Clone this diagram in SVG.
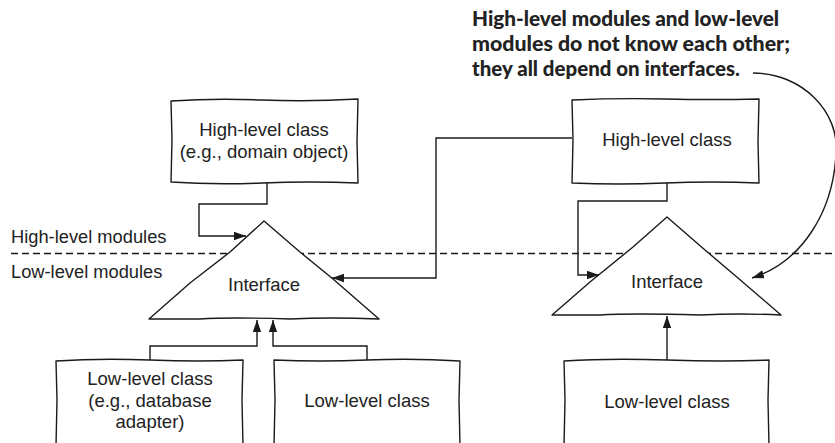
<svg xmlns="http://www.w3.org/2000/svg" width="835" height="443" viewBox="0 0 835 443">
<defs>
<marker id="ah" markerUnits="userSpaceOnUse" markerWidth="12" markerHeight="10" viewBox="0 0 12 10" refX="12" refY="5" orient="auto">
<path d="M0,0.8 L12,5 L0,9.2 Z" fill="#1a1a1a"/>
</marker>
<style>
.shape{fill:#fff;stroke:#1a1a1a;stroke-width:1.4;stroke-linejoin:round}
.conn{fill:none;stroke:#1a1a1a;stroke-width:1.4}
.t{font-family:"Liberation Sans",Arial,sans-serif;font-size:18.5px;fill:#222;text-anchor:middle}
.lbl{font-family:"Liberation Sans",Arial,sans-serif;font-size:18.3px;fill:#222}
.note{font-family:Lato,"Liberation Sans",sans-serif;font-weight:900;font-size:20px;fill:#222}
</style>
</defs>
<rect width="835" height="443" fill="#fff"/>

<g id="boundary">
<line x1="11" y1="253.5" x2="835" y2="253.5" stroke="#1a1a1a" stroke-width="1.3" stroke-dasharray="7,4"/>
<text class="lbl" x="11" y="243">High-level modules</text>
<text class="lbl" x="11" y="278">Low-level modules</text>
</g>

<g id="note">
<text class="note" x="472" y="26" textLength="307" lengthAdjust="spacingAndGlyphs">High-level modules and low-level</text>
<text class="note" x="472" y="51" textLength="318" lengthAdjust="spacingAndGlyphs">modules do not know each other;</text>
<text class="note" x="472" y="76" textLength="268" lengthAdjust="spacingAndGlyphs">they all depend on interfaces.</text>
</g>

<g id="high-left">
<path class="shape" d="M171,101 Q215,98 262,100 T358,99 L357,142 L358,183 Q310,181 262,183 T171,182 L172,140 Z"/>
<text class="t" x="264" y="136">High-level class</text>
<text class="t" x="264" y="158">(e.g., domain object)</text>
</g>

<g id="high-right">
<path class="shape" d="M572,100 Q618,98 665,99 T759,99 L758,142 L759,183 Q712,181 665,183 T572,183 L573,140 Z"/>
<text class="t" x="667" y="146">High-level class</text>
</g>

<g id="iface-left">
<path class="shape" d="M264,221 L300,252 L333,279 L379,319 Q330,317 290,319 Q230,317 200,319 L149,319 L190,283 L230,252 Z"/>
<text class="t" x="264" y="291">Interface</text>
</g>

<g id="iface-right">
<path class="shape" d="M667,217 L705,250 L738,278 L781,315 Q740,313 700,315 Q630,313 600,315 L552,315 L590,282 L633,247 Z"/>
<text class="t" x="667" y="288">Interface</text>
</g>

<g id="low-left">
<path class="shape" d="M56,361 Q100,358 150,360 T243,360 L242,400 L243,446 L56,446 L57,400 Z"/>
<text class="t" x="150" y="385">Low-level class</text>
<text class="t" x="150" y="407">(e.g., database</text>
<text class="t" x="150" y="428">adapter)</text>
</g>

<g id="low-middle">
<path class="shape" d="M274,360 Q320,362 367,360 T460,361 L459,400 L460,446 L274,446 L275,400 Z"/>
<text class="t" x="367" y="407">Low-level class</text>
</g>

<g id="low-right">
<path class="shape" d="M564,361 Q610,358 667,360 T769,360 L768,400 L769,446 L564,446 L565,400 Z"/>
<text class="t" x="667" y="408">Low-level class</text>
</g>

<g id="connectors">
<path class="conn" d="M267,183 V204 H199 V236 H246" marker-end="url(#ah)"/>
<path class="conn" d="M572,138 H436 V278 H332" marker-end="url(#ah)"/>
<path class="conn" d="M667,183 V201 H578 V275 H599" marker-end="url(#ah)"/>
<path class="conn" d="M150,360 V346 H257 V320" marker-end="url(#ah)"/>
<path class="conn" d="M367,360 V346 H273 V320" marker-end="url(#ah)"/>
<path class="conn" d="M667,360 V316" marker-end="url(#ah)"/>
<path class="conn" stroke-width="1" d="M753,73 C802,73 840,112 836,154 C833,212 802,262 752,278" marker-end="url(#ah)"/>
</g>
</svg>
